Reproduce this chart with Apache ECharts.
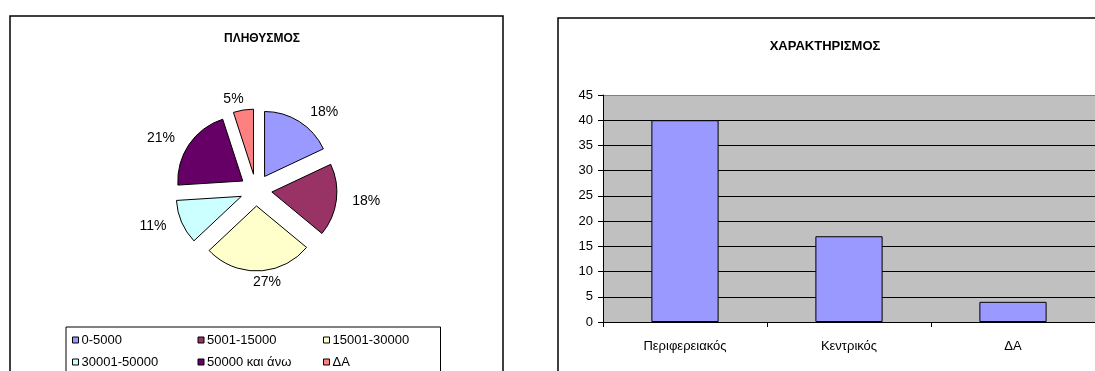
<!DOCTYPE html>
<html>
<head>
<meta charset="utf-8">
<script src="https://cdn.jsdelivr.net/npm/echarts@6/dist/echarts.min.js"></script>
<style>
  html, body { margin: 0; padding: 0; background: #fff; }
  #main { width: 1095px; height: 371px; }
</style>
</head>
<body>
<div id="main"></div>
<script>
// Population groups (share of total, %)
const popCategories = ['0-5000', '5001-15000', '15001-30000', '30001-50000', '50000 και άνω', 'ΔΑ'];
const popValues = [18, 18, 27, 11, 21, 5];
const popColors = ['#9999FF', '#993366', '#FFFFCC', '#CCFFFF', '#660066', '#FF8080'];

// Characterisation counts
const typeCategories = ['Περιφερειακός', 'Κεντρικός', 'ΔΑ'];
const typeValues = [40, 17, 4];

const yTicks = { min: 0, max: 45, interval: 5 };

const FONT = '"Liberation Sans", Arial, sans-serif';

const chart = echarts.init(document.getElementById('main'), null, { renderer: 'canvas' });

// small per-slice nudges of the outside percentage labels
const labelNudge = { '15001-30000': -6, 'ΔΑ': -2 };

const pieData = popCategories.map((name, i) => {
  const item = {
    name,
    value: popValues[i],
    selected: true,
    itemStyle: { color: popColors[i] }
  };
  if (name in labelNudge) item.label = { distanceToLabelLine: labelNudge[name] };
  return item;
});

// top gridline drawn lighter, as the plot-area edge
const splitColors = [];
for (let v = yTicks.min; v <= yTicks.max; v += yTicks.interval) {
  splitColors.push(v === yTicks.max ? '#808080' : '#000');
}

chart.setOption({
  animation: false,
  backgroundColor: '#ffffff',
  textStyle: { fontFamily: FONT },
  graphic: [
    // chart frames
    { type: 'rect', shape: { x: 10, y: 16, width: 493, height: 400 },
      style: { fill: 'none', stroke: '#000', lineWidth: 1.5 }, z: 0 },
    { type: 'rect', shape: { x: 558, y: 18, width: 600, height: 400 },
      style: { fill: 'none', stroke: '#000', lineWidth: 1.5 }, z: 0 }
  ],
  title: [
    { text: 'ΠΛΗΘΥΣΜΟΣ', left: 257, top: 28, textAlign: 'center',
      textStyle: { fontFamily: FONT, fontSize: 12, fontWeight: 'bold', color: '#000' } },
    { text: 'ΧΑΡΑΚΤΗΡΙΣΜΟΣ', left: 820, top: 35, textAlign: 'center',
      textStyle: { fontFamily: FONT, fontSize: 13, fontWeight: 'bold', color: '#000' } }
  ],
  legend: {
    data: popCategories,
    orient: 'horizontal',
    left: 66,
    top: 327,
    width: 380,
    padding: [6, 0, 6, 6],
    itemGap: 8,
    itemWidth: 6,
    itemHeight: 6,
    icon: 'rect',
    borderColor: '#000',
    borderWidth: 1,
    selectedMode: false,
    itemStyle: { borderColor: '#000', borderWidth: 1 },
    textStyle: { fontFamily: FONT, fontSize: 13, color: '#000', width: 108, lineHeight: 14, padding: [0, 0, 0, -2] }
  },
  grid: { left: 603, top: 95, right: 0, bottom: 49, show: true, backgroundColor: '#C0C0C0', borderWidth: 0 },
  xAxis: {
    type: 'category',
    data: typeCategories,
    axisLine: { lineStyle: { color: '#000', width: 1 } },
    axisTick: { show: true, length: 5, lineStyle: { color: '#000' } },
    axisLabel: { fontFamily: FONT, fontSize: 13, color: '#000', margin: 18 }
  },
  yAxis: {
    type: 'value',
    min: yTicks.min, max: yTicks.max, interval: yTicks.interval,
    axisLine: { show: true, lineStyle: { color: '#000', width: 1 } },
    axisTick: { show: true, length: 5, lineStyle: { color: '#000' } },
    axisLabel: { fontFamily: FONT, fontSize: 13, color: '#000', margin: 10 },
    splitLine: { show: true, lineStyle: { color: splitColors, width: 1 } }
  },
  series: [
    {
      type: 'pie',
      center: [256, 190],
      radius: 65,
      startAngle: 90,
      clockwise: true,
      selectedMode: 'multiple',
      selectedOffset: 16,
      avoidLabelOverlap: false,
      data: pieData,
      itemStyle: { borderColor: '#000', borderWidth: 1 },
      label: {
        show: true, position: 'outside', formatter: '{d}%',
        fontFamily: FONT, fontSize: 14, color: '#000'
      },
      labelLine: { show: false, length: 11, length2: 0 },
      emphasis: { disabled: true },
      select: { itemStyle: { borderColor: '#000', borderWidth: 1 } }
    },
    {
      type: 'bar',
      data: typeValues,
      barWidth: '41%',
      itemStyle: { color: '#9999FF', borderColor: '#000', borderWidth: 1 },
      emphasis: { disabled: true }
    }
  ]
});
</script>
</body>
</html>
